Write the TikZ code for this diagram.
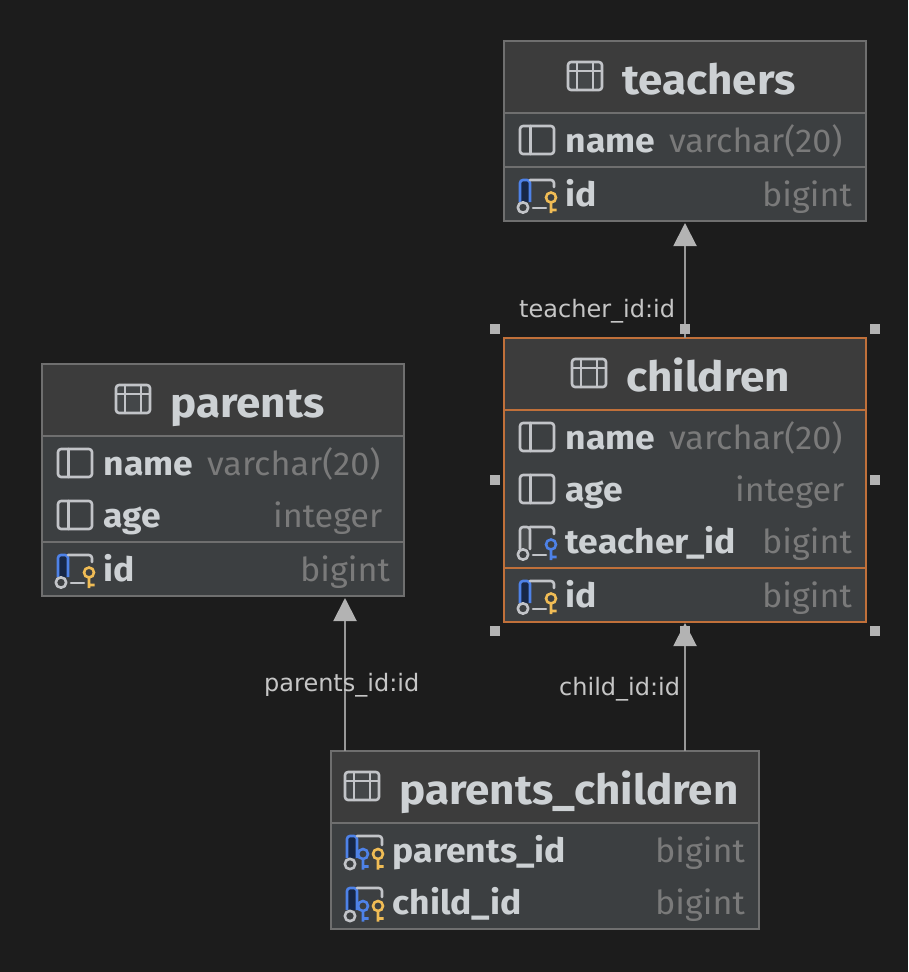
\documentclass[tikz,border=0pt]{standalone}
\usepackage{fontspec}
\setmainfont[UprightFeatures={FakeStretch=1.035},BoldFeatures={FakeStretch=1.06}]{Fira Sans}
\newfontfamily\labelfont{DejaVu Sans}
\usetikzlibrary{arrows.meta}
\definecolor{pagebg}{HTML}{1C1C1C}
\definecolor{headbg}{HTML}{3C3C3C}
\definecolor{bodybg}{HTML}{3C3F41}
\definecolor{edgegray}{HTML}{6F6F6F}
\definecolor{selorange}{HTML}{C0703A}
\definecolor{textgray}{HTML}{CDD1D4}
\definecolor{typegray}{HTML}{7A7A7A}
\definecolor{icongray}{HTML}{C2C4C8}
\definecolor{keyblue}{HTML}{4E82E8}
\definecolor{keygold}{HTML}{F0BC55}
\definecolor{linkgray}{HTML}{B3B3B3}
\definecolor{labelgray}{HTML}{C6C6C6}
\tikzset{
  tablebox/.style={draw=edgegray, fill=bodybg, line width=1.2pt, inner sep=0pt, outer sep=0pt, minimum width=362pt},
  selbox/.style={tablebox, draw=selorange},
  rowline/.style={edgegray, line width=2pt},
  selline/.style={selorange, line width=2pt},
  title/.style={anchor=base west, inner sep=0pt, yshift=-1pt, text=textgray, font=\fontsize{41.5}{42}\selectfont\bfseries},
  colname/.style={anchor=base west, inner sep=0pt, xshift=-0.5pt, yshift=-1pt, text=textgray, font=\fontsize{33.5}{34}\selectfont\bfseries},
  coltype/.style={anchor=base west, inner sep=0pt, yshift=-1pt, text=typegray, font=\fontsize{33}{33}\selectfont},
  linktext/.style={anchor=base west, inner sep=0pt, text=labelgray, font=\fontsize{24}{24}\selectfont\labelfont},
  link/.style={draw=linkgray!85!black, line width=2pt, xshift=-0.5pt, -{Triangle[length=23pt,width=23pt,color=linkgray]}, shorten >=2pt},
  handle/.style={fill=linkgray, inner sep=0pt, minimum size=10pt},
  icon/.style={icongray, line width=2.6pt, line cap=round, line join=round},
  tableicon/.pic={
    \draw[icon, fill=white!4!bodybg, rounded corners=3pt] (-17,-14) rectangle (17,14);
    \draw[icon] (-17,-5) -- (17,-5) (-8,-14) -- (-8,14) (8,-14) -- (8,14);
  },
  colicon/.pic={
    \draw[icon, rounded corners=3pt] (-17,-14) rectangle (17,14);
    \draw[icon] (-6.5,-14) -- (-6.5,14);
  },
  keyshape/.pic={
    \draw[line width=2.6pt] (0,0) circle (5pt) (0,5) -- (0,15.5) (0,12.5) -- (5.5,12.5);
  },
  leftpart/.pic={
    \draw[icon] (-7,-14) -- (13,-14) [rounded corners=3pt] -- (17,-14) -- (17,-7);
    \draw[icon] (-4,14) -- (9,14);
    \draw[icon, fill=bodybg] (-14,13.5) circle (5.2pt);
  },
  pkicon/.pic={
    \draw[keyblue, fill=keyblue!30!black, line width=2.6pt, rounded corners=3pt] (-17,8) -- (-17,-14) -- (-7,-14) -- (-7,8);
    \pic {leftpart};
    \pic[keygold] at (14,3.5) {keyshape};
  },
  fkicon/.pic={
    \draw[icon, fill=white!6!bodybg, rounded corners=3pt] (-17,8) -- (-17,-14) -- (-7,-14) -- (-7,8);
    \pic {leftpart};
    \pic[keyblue] at (14,3.5) {keyshape};
  },
  pkfkicon/.pic={
    \draw[keyblue, fill=keyblue!30!black, line width=2.6pt, rounded corners=3pt] (-17,8) -- (-17,-14) -- (-7,-14) -- (-7,8);
    \draw[icon] (-7,-14) -- (13,-14) [rounded corners=3pt] -- (18,-14) -- (18,-5);
    \draw[icon, fill=bodybg] (-14,14) circle (5.2pt);
    \pic[keyblue] at (-1,4) {keyshape};
    \pic[keygold] at (14,4) {keyshape};
  }
}
\begin{document}
\begin{tikzpicture}[x=1pt,y=-1pt]
  \fill[pagebg] (0,0) rectangle (908,972);

  % Drawing table teachers
  \node[tablebox, minimum height=180pt, anchor=north west] (teachers) at (504,41) {};
  \fill[headbg] (505,42) rectangle (865,112);
  \draw[rowline] (505,113) -- (865,113);
  \draw[rowline] (505,167) -- (865,167);
  \pic at (585,76) {tableicon};
  \node[title] (teachersT) at (622,93) {teachers};
  \pic at (537,140) {colicon};
  \node[colname] (teachersA) at (566,151) {name};
  \node[coltype] (teachersB) at (669,151) {varchar(20)};
  \pic at (537,194) {pkicon};
  \node[colname] (teachersC) at (566,205) {id};
  \node[coltype] (teachersD) at (762,205) {bigint};

  % Drawing table children
  \node[selbox, minimum height=284pt, anchor=north west] (children) at (504,338) {};
  \fill[headbg] (505,339) rectangle (865,409);
  \draw[selline] (505,410) -- (865,410);
  \draw[selline] (505,568) -- (865,568);
  \pic at (589,373) {tableicon};
  \node[title] (childrenT) at (626,390) {children};
  \pic at (537,437) {colicon};
  \node[colname] (childrenA) at (566,448) {name};
  \node[coltype] (childrenB) at (669,448) {varchar(20)};
  \pic at (537,489) {colicon};
  \node[colname] (childrenC) at (566,500) {age};
  \node[coltype] (childrenD) at (735,500) {integer};
  \pic at (537,541) {fkicon};
  \node[colname] (childrenE) at (566,552) {teacher\_id};
  \node[coltype] (childrenF) at (762,552) {bigint};
  \pic at (537,595) {pkicon};
  \node[colname] (childrenG) at (566,606) {id};
  \node[coltype] (childrenH) at (762,606) {bigint};

  % Drawing table parents
  \node[tablebox, minimum height=232pt, anchor=north west] (parents) at (42,364) {};
  \fill[headbg] (43,365) rectangle (403,435);
  \draw[rowline] (43,436) -- (403,436);
  \draw[rowline] (43,542) -- (403,542);
  \pic at (133,399) {tableicon};
  \node[title] (parentsT) at (170,416) {parents};
  \pic at (75,463) {colicon};
  \node[colname] (parentsA) at (104,474) {name};
  \node[coltype] (parentsB) at (207,474) {varchar(20)};
  \pic at (75,515) {colicon};
  \node[colname] (parentsC) at (104,526) {age};
  \node[coltype] (parentsD) at (273,526) {integer};
  \pic at (75,569) {pkicon};
  \node[colname] (parentsE) at (104,580) {id};
  \node[coltype] (parentsF) at (300,580) {bigint};

  % Drawing table parents_children
  \node[tablebox, minimum width=428pt, minimum height=178pt, anchor=north west] (pc) at (331,751) {};
  \fill[headbg] (332,752) rectangle (758,822);
  \draw[rowline] (332,823) -- (758,823);
  \pic at (362,786) {tableicon};
  \node[title] (pcT) at (399,803) {parents\_children};
  \pic at (364,850) {pkfkicon};
  \node[colname] (pcA) at (393,861) {parents\_id};
  \node[coltype] (pcB) at (655,861) {bigint};
  \pic at (364,902) {pkfkicon};
  \node[colname] (pcC) at (393,913) {child\_id};
  \node[coltype] (pcD) at (655,913) {bigint};

  % Drawing the links
  \coordinate (parentsEnd) at (345,596);
  \coordinate (pcStartA) at (345,751);
  \coordinate (childrenEnd) at (685,622);
  \coordinate (pcStartB) at (685,751);
  \draw[link] (children.north) -- (teachers.south);
  \draw[link] (pcStartA) -- (parentsEnd);
  \draw[link, shorten >=1pt] (pcStartB) -- (childrenEnd);

  % Marking the link labels
  \node[linktext] (labelA) at (519,317) {teacher\_id:id};
  \node[linktext] (labelB) at (264,691) {parents\_id:id};
  \node[linktext] (labelC) at (559,695) {child\_id:id};

  % Marking the selection handles
  \foreach \hx/\hy [count=\hn] in {495/329,685/329,875/329,495/480,875/480,495/631,685/631,875/631}
    \node[handle] (handle\hn) at (\hx,\hy) {};
\end{tikzpicture}
\end{document}
